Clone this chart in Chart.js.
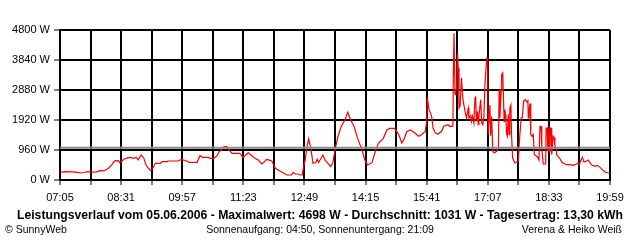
<!DOCTYPE html>
<html>
<head>
<meta charset="utf-8">
<script src="https://cdn.jsdelivr.net/npm/chart.js@4"></script>
<style>
  body { margin: 0; background: #fff; }
  #wrap { position: relative; width: 640px; height: 240px; }
  .txt { position: absolute; font-family: "Liberation Sans", Arial, sans-serif; color: #000; white-space: nowrap; }
</style>
</head>
<body>
<div id="wrap">
  <canvas id="pvChart" width="640" height="240"></canvas>
  <div class="txt" id="title" style="left:0;width:640px;text-align:center;top:208px;font-size:12.2px;font-weight:bold;">Leistungsverlauf vom 05.06.2006 - Maximalwert: 4698 W - Durchschnitt: 1031 W - Tagesertrag: 13,30 kWh</div>
  <div class="txt" style="left:5px;top:223px;font-size:10.5px;">© SunnyWeb</div>
  <div class="txt" style="left:0;width:640px;text-align:center;top:223px;font-size:10.5px;">Sonnenaufgang: 04:50, Sonnenuntergang: 21:09</div>
  <div class="txt" style="right:18px;top:223px;font-size:10.5px;">Verena &amp; Heiko Weiß</div>
</div>
<script>
// tick labels (every second grid line, 86 min apart)
const timeLabels = ['07:05', '08:31', '09:57', '11:23', '12:49', '14:15', '15:41', '17:07', '18:33', '19:59'];
const yTicks = [0, 960, 1920, 2880, 3840, 4800];

// minutes after 07:05 and power in W
const mins = [
  1, 6, 17, 25, 28, 34, 39, 46, 52, 56, 61, 65, 69, 73, 77, 82, 84, 90, 96, 100,
  104, 107, 110, 114, 118, 121, 125, 128, 131, 134, 141, 144, 151, 152, 166, 171, 178, 182, 193, 197,
  201, 208, 212, 217, 221, 224, 228, 231, 235, 238, 242, 253, 258, 265, 270, 274, 279, 284, 288, 291,
  298, 303, 307, 314, 319, 326, 328, 331, 335, 338, 341, 342, 345, 348, 350, 353, 356, 360, 362, 364,
  370, 373, 377, 381, 384, 387, 391, 396, 401, 405, 409, 414, 418, 425, 429, 433, 439, 443, 448, 455,
  460, 464, 471, 474, 477, 481, 484, 488, 493, 500, 504, 507, 511, 514, 516, 517, 519, 523, 525, 528,
  532, 537, 540, 546, 549, 553, 553.5, 554.5, 556, 557, 558, 559.5, 560.5, 561.5, 563, 565, 566.5, 567.5, 570, 572,
  574.5, 575.5, 578, 579, 580.5, 582.5, 584, 585, 586, 587.5, 588.5, 589.5, 592, 593.5, 595, 596.5, 598, 600.5, 602, 602.5,
  605, 606, 607.5, 609, 611, 614.5, 617, 618, 619, 621, 621.5, 623, 624, 625, 626, 627.5, 628.5, 629.5, 631, 632,
  633, 634.5, 635.5, 637, 640, 645, 647, 649, 650.5, 652.5, 655, 657, 658.5, 659, 660, 661.5, 662.5, 664.5, 666, 667.5,
  672, 674, 675.5, 677, 678, 680, 683.5, 684, 685.5, 686.5, 687, 688.5, 689.5, 691, 692, 694, 695.5, 696.5, 698, 699,
  701, 703.5, 706, 708, 713, 717.5, 722.5, 727, 729, 730.5, 733, 735, 737.5, 741, 743.5, 746, 749, 753, 756.5, 760,
  763, 767, 771.5, 774
];
const watts = [
  246, 266, 262, 246, 224, 240, 266, 250, 262, 298, 290, 330, 394, 490, 610, 620, 554, 662, 714, 714,
  690, 730, 640, 800, 698, 480, 360, 300, 394, 534, 534, 586, 586, 608, 608, 662, 608, 566, 566, 778,
  726, 726, 694, 700, 778, 906, 982, 1066, 1066, 960, 854, 854, 726, 874, 778, 700, 640, 512, 586, 662,
  608, 374, 320, 234, 160, 160, 246, 192, 192, 160, 160, 320, 640, 1120, 1320, 1014, 534, 560, 662, 560,
  800, 640, 534, 426, 554, 960, 1386, 1728, 1920, 2166, 1920, 1706, 1386, 960, 640, 480, 554, 854, 1174, 1334,
  1600, 1654, 1654, 1546, 1440, 1180, 1300, 1546, 1600, 1494, 1408, 1420, 1494, 1546, 1866, 2640, 2300, 2037, 1664, 1504,
  1472, 1557, 1718, 1770, 1706, 1730, 3264, 4698, 2730, 2880, 2890, 4032, 3584, 2304, 2368, 3264, 2730, 2518, 2197, 1984,
  2304, 1984, 2060, 1877, 2037, 1824, 2624, 2656, 1877, 2200, 1770, 2037, 2570, 1824, 1770, 2000, 3050, 3904, 3904, 1450,
  2398, 1418, 2037, 918, 864, 918, 1024, 2890, 1984, 2890, 3370, 3424, 2730, 1877, 2250, 2037, 1472, 1400, 2100, 1450,
  2304, 2400, 1418, 704, 544, 608, 1398, 1984, 2000, 2538, 2570, 2496, 2540, 1984, 2250, 2450, 1450, 1398, 1450, 810,
  746, 640, 1718, 1718, 1024, 512, 512, 1664, 1664, 918, 1718, 918, 1664, 1664, 810, 1398, 1350, 1077, 1040, 810,
  746, 682, 576, 544, 490, 490, 469, 512, 544, 490, 618, 725, 576, 608, 640, 544, 469, 437, 469, 405,
  331, 256, 224, 224
];
const avgWatt = 1031;
const spanMin = 774;

const ctx = document.getElementById('pvChart');
new Chart(ctx, {
  type: 'line',
  data: {
    datasets: [
      {
        label: 'Durchschnitt',
        data: [{ x: 0, y: avgWatt }, { x: spanMin, y: avgWatt }],
        borderColor: '#8a8a8a',
        borderWidth: 2,
        pointRadius: 0
      },
      {
        label: 'Leistung',
        data: mins.map((m, i) => ({ x: m, y: watts[i] })),
        borderColor: '#ff0000',
        borderWidth: 1.2,
        pointRadius: 0,
        tension: 0
      }
    ]
  },
  options: {
    responsive: false,
    animation: false,
    layout: { padding: { left: 0, right: 30, top: 30, bottom: 36 } },
    plugins: {
      legend: { display: false },
      tooltip: { enabled: false }
    },
    scales: {
      x: {
        type: 'linear',
        min: 0,
        max: spanMin,
        afterFit: (s) => { s.height = 24; },
        border: { display: true, color: '#000', width: 2 },
        grid: { color: '#000', lineWidth: 2, tickLength: 5, tickColor: '#000', tickWidth: 1 },
        ticks: {
          stepSize: 43,
          autoSkip: false,
          maxRotation: 0,
          padding: 6,
          color: '#000',
          font: { family: 'Liberation Sans', size: 11 },
          callback: (v, i) => (i % 2 === 0 ? timeLabels[i / 2] : '')
        }
      },
      y: {
        min: 0,
        max: 4800,
        afterFit: (s) => { s.width = 60; },
        afterBuildTicks: (s) => { s.ticks = yTicks.map(v => ({ value: v })); },
        border: { display: true, color: '#000', width: 2 },
        grid: { color: '#000', lineWidth: 2, tickLength: 6, tickColor: '#000', tickWidth: 1 },
        ticks: {
          padding: 4,
          color: '#000',
          font: { family: 'Liberation Sans', size: 11 },
          callback: (v) => v + ' W'
        }
      }
    }
  }
});
</script>
</body>
</html>
